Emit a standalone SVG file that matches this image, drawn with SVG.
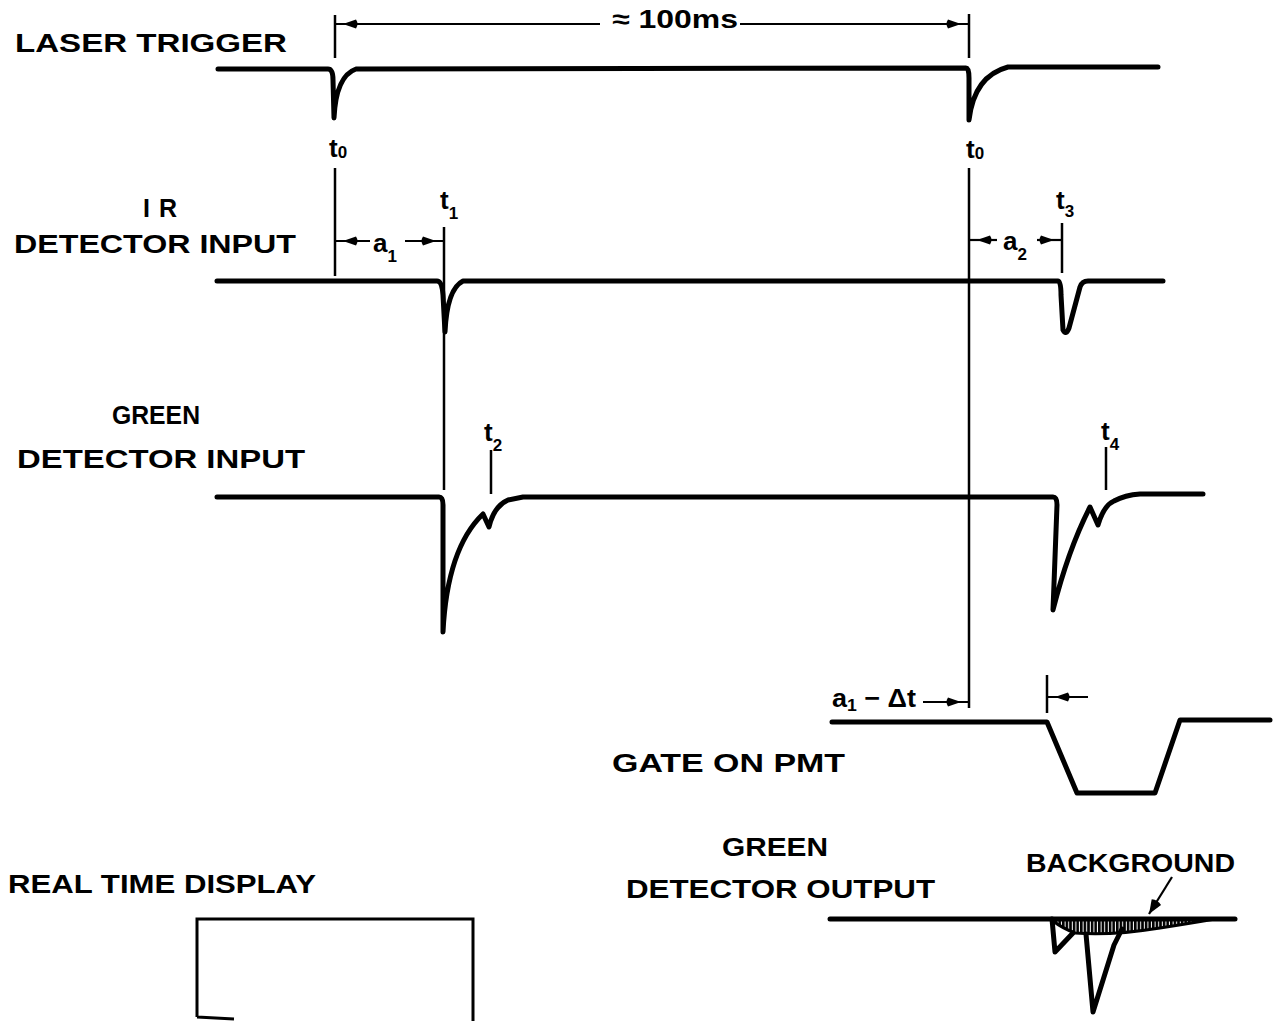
<svg xmlns="http://www.w3.org/2000/svg" width="1275" height="1021" viewBox="0 0 1275 1021">
<style>
.sig{fill:none;stroke:#000;stroke-width:5;stroke-linecap:round;stroke-linejoin:round}
.ref{fill:none;stroke:#000;stroke-width:2.5}
.dim{fill:none;stroke:#000;stroke-width:2.2}
.lbl{font-family:"Liberation Sans",Arial,sans-serif;font-weight:bold;font-size:25px;fill:#000}
.tl{font-family:"Liberation Sans",Arial,sans-serif;font-weight:bold;font-size:26px;fill:#000}
.sub{font-size:17px}
</style>
<defs>
<marker id="ah" markerUnits="userSpaceOnUse" markerWidth="26" markerHeight="12" viewBox="0 -6 26 12" refX="22" refY="0" orient="auto">
<path d="M15,0 L2,-4.5 Q-1,0 2,4.5 Z" fill="#000"/>
</marker>
<marker id="ah2" markerUnits="userSpaceOnUse" markerWidth="20" markerHeight="14" viewBox="0 -7 20 14" refX="16" refY="0" orient="auto">
<path d="M16,0 L2,-5.5 Q-1,0 2,5.5 Z" fill="#000"/>
</marker>
<pattern id="hatch" patternUnits="userSpaceOnUse" width="3.6" height="20">
<rect x="0" y="0" width="2.6" height="20" fill="#000"/>
</pattern>
<clipPath id="bandclip">
<path d="M1053,917 L1215,917 Q1192,923 1160,928 Q1110,936 1075,933 Q1062,928 1053,921 Z"/>
</clipPath>
</defs>

<g id="connectors">
<line class="ref" x1="335" y1="15" x2="335" y2="58"/>
<line class="ref" x1="335" y1="168" x2="335" y2="276"/>
<line class="ref" x1="969" y1="14" x2="969" y2="58"/>
<line class="ref" x1="969" y1="168" x2="969" y2="708"/>
<line class="ref" x1="444" y1="227" x2="444" y2="490"/>
<line class="ref" x1="491" y1="450" x2="491" y2="494"/>
<line class="ref" x1="1062" y1="223" x2="1062" y2="273"/>
<line class="ref" x1="1106" y1="447" x2="1106" y2="490"/>
<line class="ref" x1="1047" y1="675" x2="1047" y2="713"/>
<line class="dim" x1="600" y1="24" x2="336" y2="24" marker-end="url(#ah)"/>
<line class="dim" x1="740" y1="24" x2="968" y2="24" marker-end="url(#ah)"/>
<line class="dim" x1="370" y1="241" x2="336" y2="241" marker-end="url(#ah)"/>
<line class="dim" x1="405" y1="241" x2="443" y2="241" marker-end="url(#ah)"/>
<line class="dim" x1="997" y1="240" x2="970" y2="240" marker-end="url(#ah)"/>
<line class="dim" x1="1037" y1="240" x2="1061" y2="240" marker-end="url(#ah)"/>
<line class="dim" x1="923" y1="702" x2="968" y2="702" marker-end="url(#ah)"/>
<line class="dim" x1="1088" y1="697" x2="1048" y2="697" marker-end="url(#ah)"/>
<line class="dim" x1="1172" y1="877" x2="1149" y2="914" marker-end="url(#ah2)" stroke-width="3"/>
</g>

<g id="dimension-labels">
<text class="tl" x="612" y="28" textLength="126" lengthAdjust="spacingAndGlyphs">≈ 100ms</text>
<text class="tl" x="329" y="157">t<tspan class="sub" dy="1">0</tspan></text>
<text class="tl" x="966" y="158">t<tspan class="sub" dy="1">0</tspan></text>
<text class="tl" x="373" y="252">a<tspan class="sub" dy="10">1</tspan></text>
<text class="tl" x="1003" y="250">a<tspan class="sub" dy="10">2</tspan></text>
<text class="tl" x="440" y="209">t<tspan class="sub" dy="10">1</tspan></text>
<text class="tl" x="1056" y="209">t<tspan class="sub" dy="8">3</tspan></text>
<text class="tl" x="484" y="441">t<tspan class="sub" dy="10">2</tspan></text>
<text class="tl" x="1101" y="440">t<tspan class="sub" dy="10">4</tspan></text>
<text class="tl" x="832" y="707" textLength="84" lengthAdjust="spacingAndGlyphs">a<tspan class="sub" dy="4">1</tspan><tspan dy="-4"> − Δt</tspan></text>
</g>

<g id="laser-trigger">
<text class="lbl" x="15" y="52" textLength="272" lengthAdjust="spacingAndGlyphs">LASER TRIGGER</text>
<path class="sig" d="M218,69 L328,69 Q333,69 333,80 L334,118 Q336,76 356,69 L966,68 Q969,68 969,78 L969,120 Q974,76 1008,67 L1158,67"/>
</g>

<g id="ir-detector-input">
<text class="lbl" x="143" y="217" textLength="34" lengthAdjust="spacing">IR</text>
<text class="lbl" x="14" y="253" textLength="282" lengthAdjust="spacingAndGlyphs">DETECTOR INPUT</text>
<path class="sig" d="M217,281 L437,281 Q442,281 443,295 L445,332 Q447,289 463,281 L1058,281 Q1061,281 1061,295 L1063,330 Q1066,336 1069,328 L1080,287 Q1082,281 1088,281 L1163,281"/>
</g>

<g id="green-detector-input">
<text class="lbl" x="112" y="424" textLength="88" lengthAdjust="spacingAndGlyphs">GREEN</text>
<text class="lbl" x="17" y="468" textLength="288" lengthAdjust="spacingAndGlyphs">DETECTOR INPUT</text>
<path class="sig" d="M217,497 L439,497 Q443,497 443,505 L443,632 C446,572 460,536 483,514 L489,527 Q494,506 508,500 L523,497 L1053,497 Q1057,497 1057,505 L1053,610 Q1068,550 1090,507 L1098,525 Q1104,505 1114,501 Q1125,495 1140,494 L1203,494"/>
</g>

<g id="gate-on-pmt">
<text class="lbl" x="612" y="772" textLength="233" lengthAdjust="spacingAndGlyphs">GATE ON PMT</text>
<path class="sig" d="M832,722 L1047,722 L1077,793 L1155,793 L1180,720 L1270,720"/>
</g>

<g id="green-detector-output">
<text class="lbl" x="722" y="856" textLength="106" lengthAdjust="spacingAndGlyphs">GREEN</text>
<text class="lbl" x="626" y="898" textLength="309" lengthAdjust="spacingAndGlyphs">DETECTOR OUTPUT</text>
<text class="lbl" x="1026" y="872" textLength="209" lengthAdjust="spacingAndGlyphs">BACKGROUND</text>
<rect x="1050" y="915" width="170" height="25" fill="url(#hatch)" clip-path="url(#bandclip)"/>
<path d="M1053,921 Q1062,928 1075,933 Q1110,936 1160,928 Q1192,923 1215,919" fill="none" stroke="#000" stroke-width="3"/>
<path class="sig" d="M830,919 L1235,919"/>
<path class="sig" d="M1052,919 L1055,952 L1073,933"/>
<path class="sig" d="M1086,934 L1093,1012 L1114,945 L1122,929"/>
</g>

<g id="real-time-display">
<text class="lbl" x="8" y="893" textLength="308" lengthAdjust="spacingAndGlyphs">REAL TIME DISPLAY</text>
<path d="M197,1017 L197,919 L473,919 L473,1021 M197,1017 L234,1019" fill="none" stroke="#000" stroke-width="3"/>
</g>
</svg>
